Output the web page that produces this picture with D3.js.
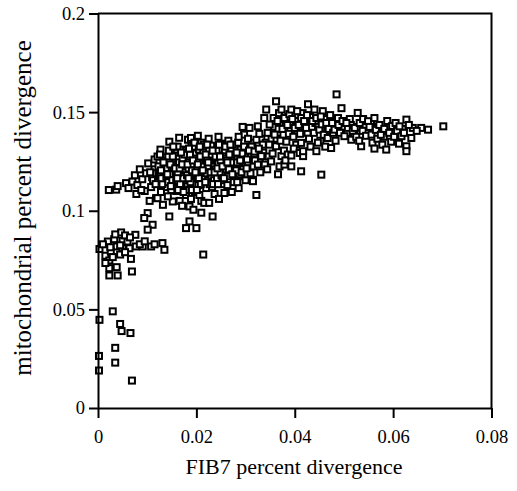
<!DOCTYPE html>
<html><head><meta charset="utf-8">
<script src="https://cdn.jsdelivr.net/npm/d3@7"></script>
<style>body{margin:0;background:#fff}svg{display:block}</style>
</head><body><svg id="c" width="517" height="491"></svg>
<script>
const xTicks=[0,0.02,0.04,0.06,0.08];
const xTickLabels=["0","0.02","0.04","0.06","0.08"];
const yTicks=[0,0.05,0.1,0.15,0.2];
const yTickLabels=["0","0.05","0.1","0.15","0.2"];
const xTitle="FIB7 percent divergence";
const yTitle="mitochondrial percent divergence";

// [FIB7 divergence, mitochondrial divergence]
const lowOutliers=[[0.0003,0.0447],[0.0030,0.0490],[0.0045,0.0426],[0.0048,0.0390],[0.0066,0.0380],[0.0035,0.0305],[0.0002,0.0264],[0.0035,0.0230],[0.0002,0.0190],[0.0069,0.0139]];
const lowCluster=[[0.0047,0.0890],[0.0076,0.0878],[0.0020,0.0844],[0.0033,0.0856],[0.0050,0.0848],[0.0060,0.0844],[0.0038,0.0819],[0.0050,0.0810],[0.0064,0.0810],[0.0077,0.0819],[0.0091,0.0819],[0.0108,0.0819],[0.0131,0.0836],[0.0135,0.0802],[0.0003,0.0806],[0.0015,0.0772],[0.0026,0.0793],[0.0067,0.0756],[0.0023,0.0748],[0.0038,0.0714],[0.0023,0.0709],[0.0023,0.0672],[0.0040,0.0672],[0.0069,0.0692],[0.0010,0.0830],[0.0035,0.0880],[0.0055,0.0875],[0.0065,0.0865],[0.0045,0.0825],[0.0025,0.0815],[0.0085,0.0830],[0.0095,0.0845],[0.0115,0.0830],[0.0045,0.0778],[0.0015,0.0735],[0.0055,0.0790],[0.0030,0.0765]];
const bridge=[[0.0022,0.1105],[0.0037,0.1107],[0.0040,0.1125],[0.0057,0.1140],[0.0062,0.1115],[0.0070,0.1148],[0.0101,0.0988],[0.0094,0.0963],[0.0111,0.0929],[0.0101,0.0904],[0.0145,0.0971],[0.0186,0.0946],[0.0179,0.0912],[0.0200,0.0912],[0.0233,0.0971],[0.0214,0.0778],[0.0186,0.1022],[0.0210,0.1050],[0.0132,0.1030],[0.0152,0.1047]];
const cloudLeft=[
[0.0075,0.118],[0.008,0.113],[0.0085,0.121],[0.009,0.116],[0.0095,0.110],[0.0098,0.119],[0.0078,0.1085],[0.0088,0.1105],
[0.0105,0.105],[0.0108,0.112],[0.011,0.117],[0.0115,0.121],[0.0102,0.124],[0.0118,0.1064],[0.0112,0.1155],[0.0119,0.119],[0.0106,0.1195],[0.0115,0.126],
[0.0121,0.1064],[0.0127,0.131],[0.0125,0.1245],[0.013,0.121],[0.0135,0.118],[0.0122,0.115],[0.0138,0.112],[0.0128,0.1095],[0.0133,0.127],[0.0139,0.123],[0.0124,0.119],[0.0136,0.1155],[0.0131,0.1135],[0.0126,0.1175],
[0.0123,0.1225],[0.0134,0.1195],[0.0129,0.1165],[0.0137,0.1255],[0.0121,0.1275],[0.0139,0.1175],
[0.0142,0.1073],[0.0145,0.135],[0.0148,0.13],[0.0155,0.1255],[0.0141,0.1215],[0.0158,0.119],[0.0147,0.1165],[0.0153,0.113],[0.0159,0.11],[0.0144,0.125],[0.015,0.122],[0.0156,0.1165],[0.0143,0.1145],[0.0157,0.128],[0.0149,0.1105],[0.0154,0.1205],
[0.0146,0.1185],[0.0151,0.1155],[0.0158,0.1235],[0.0143,0.1275],[0.0155,0.1125],[0.0147,0.1235],[0.0159,0.1145],
[0.0165,0.137],[0.0162,0.1325],[0.017,0.128],[0.0175,0.124],[0.0168,0.1205],[0.0178,0.1175],[0.0163,0.115],[0.0172,0.1115],[0.0179,0.108],[0.0166,0.105],[0.0174,0.131],[0.0161,0.1225],[0.0177,0.1205],[0.0169,0.1175],[0.0164,0.1265],[0.0176,0.1145],[0.0171,0.1025],[0.018,0.126],
[0.0167,0.1135],[0.0173,0.1165],[0.0162,0.119],[0.0178,0.1225],[0.0165,0.1245],[0.0172,0.1265],[0.0179,0.1305],
[0.0183,0.136],[0.019,0.133],[0.0195,0.129],[0.0185,0.1255],[0.0198,0.1225],[0.0188,0.119],[0.0193,0.116],[0.0182,0.1125],[0.0197,0.1095],[0.0189,0.106],[0.0194,0.1005],[0.0184,0.1215],[0.0199,0.1175],[0.0187,0.1155],[0.0192,0.1235],[0.0196,0.1135],
[0.0181,0.118],[0.0191,0.1205],[0.0186,0.1275],[0.0197,0.1265],[0.0183,0.1105],[0.0194,0.1325],[0.0188,0.1145],[0.0189,0.1369],
[0.0203,0.138],[0.021,0.1345],[0.0205,0.131],[0.0215,0.1275],[0.0208,0.124],[0.0218,0.1205],[0.0202,0.118],[0.0212,0.115],[0.022,0.1115],[0.0206,0.108],[0.0216,0.104],[0.021,0.099],[0.0201,0.1255],[0.0219,0.124],[0.0207,0.1205],[0.0213,0.1185],[0.0204,0.113],
[0.0202,0.1215],[0.0211,0.1225],[0.0217,0.1165],[0.0205,0.1165],[0.0214,0.1295],[0.0209,0.1135],[0.022,0.1255],
[0.0225,0.1365],[0.023,0.133],[0.0238,0.129],[0.0222,0.1265],[0.0235,0.1235],[0.0228,0.1205],[0.024,0.1175],[0.0224,0.1155],[0.0232,0.112],[0.0237,0.1085],[0.0226,0.104],[0.0234,0.1255],[0.0229,0.1285],[0.0239,0.121],[0.0221,0.119],
[0.0223,0.1225],[0.0231,0.1175],[0.0227,0.1135],[0.0236,0.1155],[0.024,0.1255],[0.0226,0.1305],
[0.0245,0.1375],[0.025,0.134],[0.0258,0.1305],[0.0243,0.128],[0.0255,0.125],[0.0248,0.122],[0.026,0.1195],[0.0242,0.1165],[0.0252,0.1135],[0.0257,0.109],[0.0246,0.106],[0.0254,0.1275],[0.0259,0.1235],[0.0244,0.124],[0.0251,0.118],
[0.0247,0.1195],[0.0253,0.1155],[0.0258,0.1265],[0.0241,0.1305],[0.0249,0.1255],
[0.0265,0.1355],[0.027,0.1315],[0.0278,0.128],[0.0262,0.1255],[0.0275,0.1225],[0.0268,0.1195],[0.028,0.1165],[0.0263,0.113],[0.0272,0.1095],[0.0277,0.1255],[0.0266,0.121],[0.0274,0.1335],
[0.0264,0.1175],[0.0271,0.1245],[0.0279,0.1205],[0.0284,0.1265],[0.0291,0.1235],[0.0296,0.1175],[0.0287,0.1295],
[0.0297,0.1386],[0.0294,0.1425],[0.0285,0.1345],[0.029,0.131],[0.0298,0.1275],[0.0283,0.1245],[0.0295,0.1215],[0.0288,0.1185],[0.03,0.1155],[0.0286,0.1115],[0.0293,0.129],[0.0281,0.1205],[0.0299,0.124]];
const cloudCore=[[0.0117,0.1135],[0.0128,0.1205],[0.0133,0.1245],[0.0126,0.1285],[0.0141,0.1185],[0.0148,0.1125],[0.0152,0.1275],[0.0157,0.1215],[0.0144,0.1305],[0.0153,0.1325],[0.0161,0.1165],[0.0166,0.1215],[0.0171,0.1235],[0.0176,0.1285],[0.0169,0.1295],[0.0163,0.1105],[0.0174,0.1095],[0.0182,0.1235],[0.0187,0.1285],[0.0193,0.1255],[0.0198,0.1195],[0.0184,0.1165],[0.0191,0.1105],[0.0196,0.1345],[0.0185,0.1315],[0.0203,0.1235],[0.0208,0.1275],[0.0213,0.1205],[0.0218,0.1145],[0.0201,0.1105],[0.0215,0.1335],[0.0207,0.1325],[0.0219,0.1285],[0.0224,0.1245],[0.0229,0.1195],[0.0234,0.1135],[0.0239,0.1275],[0.0222,0.1335],[0.0233,0.1305],[0.0237,0.1195],[0.0243,0.1215],[0.0248,0.1275],[0.0253,0.1225],[0.0256,0.1165],[0.0244,0.1135],[0.0259,0.1325],[0.0246,0.1335],[0.0263,0.1245],[0.0267,0.1285],[0.0273,0.1185],[0.0276,0.1145],[0.0269,0.1335],[0.0282,0.1295],[0.0289,0.1255],[0.0292,0.1195],[0.0283,0.1145],[0.0297,0.1325],[0.0286,0.1375],[0.0305,0.1245],[0.0311,0.1275],[0.0304,0.1185],[0.0314,0.1345],[0.0321,0.1255],[0.0329,0.1245],[0.0336,0.1295],[0.0332,0.1365],[0.0341,0.1345],[0.0347,0.1275],[0.0353,0.1365],[0.0358,0.1425],[0.0363,0.1365],[0.0367,0.1415],[0.0372,0.1465],[0.0377,0.1385],[0.0382,0.1445],[0.0387,0.1475],[0.0391,0.1415],[0.0396,0.1435],[0.0402,0.1455],[0.0406,0.1395],[0.0412,0.1425],[0.0416,0.1495],[0.0421,0.1445],[0.0426,0.1395],[0.0431,0.1475],[0.0435,0.1425],[0.0442,0.1445],[0.0448,0.1425],[0.0452,0.1355],[0.0461,0.1465],[0.0466,0.1405],[0.0473,0.1435],[0.0479,0.1465],[0.0486,0.1425],[0.0493,0.1435],[0.0499,0.1415],[0.0506,0.1395],[0.0514,0.1435],[0.0521,0.1385],[0.0529,0.1425],[0.0541,0.1425],[0.0547,0.1405],[0.0555,0.1445],[0.0569,0.1425],[0.0581,0.1375],[0.0594,0.1425],[0.0601,0.1405],[0.0609,0.1375],[0.0619,0.1415]];
const cloudMid=[
[0.0308,0.142],[0.0315,0.1157],[0.0305,0.1365],[0.0312,0.1325],[0.0318,0.129],[0.0303,0.126],[0.0316,0.1225],[0.031,0.119],[0.0302,0.1215],[0.0319,0.1255],[0.0307,0.1305],
[0.0322,0.108],[0.0325,0.1428],[0.0322,0.136],[0.0318,0.130],[0.0315,0.115],[0.0332,0.1277],[0.0339,0.1234],[0.0325,0.1234],[0.0335,0.1335],[0.0328,0.139],[0.0338,0.147],[0.033,0.1195],[0.0327,0.1315],
[0.0342,0.1513],[0.0349,0.1437],[0.0352,0.125],[0.0345,0.1395],[0.0348,0.1335],[0.0355,0.129],[0.0357,0.147],[0.0344,0.121],
[0.0362,0.1555],[0.0359,0.1386],[0.0362,0.1327],[0.0373,0.1277],[0.0369,0.1225],[0.0365,0.1455],[0.0368,0.1495],[0.0375,0.1415],[0.0371,0.1355],[0.0378,0.1305],[0.0379,0.1234],[0.0366,0.1185],
[0.0373,0.1513],[0.0379,0.147],[0.0385,0.1435],[0.0388,0.139],[0.0383,0.135],[0.0386,0.1285],[0.0381,0.1255],[0.0389,0.149],
[0.0393,0.1225],[0.0393,0.128],[0.0393,0.1513],[0.04,0.142],[0.0395,0.1465],[0.0397,0.1375],[0.0403,0.1335],[0.0398,0.1315],
[0.041,0.1293],[0.0413,0.12],[0.0413,0.1344],[0.0413,0.147],[0.0405,0.1505],[0.0408,0.1435],[0.0417,0.1277],[0.0417,0.1302],[0.0411,0.139],[0.0419,0.1455],
[0.0427,0.154],[0.0423,0.142],[0.0425,0.1485],[0.0429,0.1365],[0.0432,0.1325],[0.0436,0.1455],[0.0439,0.1395],[0.044,0.1513],[0.0444,0.1302],[0.0444,0.147],[0.0447,0.1345],[0.045,0.1411],[0.0454,0.1183],[0.0455,0.1438],[0.0457,0.1505],[0.0459,0.1385],[0.0453,0.1478]];
const cloudRight=[
[0.0464,0.1445],[0.0467,0.1369],[0.0462,0.1325],[0.0469,0.1415],[0.0474,0.1318],[0.0472,0.1485],[0.0478,0.1395],[0.0476,0.1445],[0.0481,0.1411],[0.0485,0.159],[0.0488,0.147],[0.0483,0.1355],[0.0489,0.1435],[0.0495,0.152],[0.0492,0.1395],[0.0497,0.1455],
[0.0501,0.1378],[0.0508,0.142],[0.0515,0.136],[0.0512,0.1465],[0.0505,0.1445],[0.0518,0.1405],[0.0522,0.142],[0.0528,0.1496],[0.0525,0.1375],[0.0532,0.1445],[0.0535,0.1327],[0.0538,0.1405],[0.0539,0.1465],[0.0531,0.1355],
[0.0549,0.1454],[0.0545,0.138],[0.0556,0.1386],[0.0552,0.1425],[0.0558,0.1345],[0.0562,0.147],[0.0565,0.141],[0.0568,0.1365],[0.0572,0.1435],[0.0575,0.1385],[0.0578,0.1335],[0.0562,0.1315],
[0.0586,0.131],[0.0596,0.135],[0.0582,0.1415],[0.0588,0.1455],[0.0592,0.1395],[0.0598,0.143],[0.0602,0.1375],[0.0605,0.1445],[0.0608,0.1405],[0.0613,0.1428],[0.0617,0.1378],[0.0612,0.134],
[0.0627,0.1462],[0.064,0.142],[0.0657,0.142],[0.0671,0.1411],[0.0702,0.1428],[0.0637,0.1369],[0.0627,0.1327],[0.0627,0.1302],[0.0622,0.1395],[0.0648,0.1405],[0.0632,0.1435]];

const points=[].concat(lowOutliers,lowCluster,bridge,cloudLeft,cloudCore,cloudMid,cloudRight);

const svg=d3.select("#c");
const font="'Liberation Serif','Times New Roman',serif";
const x=d3.scaleLinear().domain([0,0.08]).range([98,491.5]);
const y=d3.scaleLinear().domain([0,0.2]).range([408,13.5]);

const S=6;
svg.append("g").selectAll("rect").data(points).join("rect")
  .attr("x",d=>x(d[0])-S/2).attr("y",d=>y(d[1])-S/2)
  .attr("width",S).attr("height",S)
  .attr("fill","#fff").attr("stroke","#000").attr("stroke-width",2);

// frame top/right
svg.append("path")
  .attr("d",`M${x(0)},${y(0.2)}H${x(0.08)}V${y(0)}`)
  .attr("fill","none").attr("stroke","#000").attr("stroke-width",2);

const gx=svg.append("g").attr("transform",`translate(0,${y(0)})`)
  .call(d3.axisBottom(x).tickValues(xTicks).tickFormat((d,i)=>xTickLabels[i]).tickSize(10).tickSizeOuter(0).tickPadding(12));
const gy=svg.append("g").attr("transform",`translate(${x(0)},0)`)
  .call(d3.axisLeft(y).tickValues(yTicks).tickFormat((d,i)=>yTickLabels[i]).tickSize(9).tickSizeOuter(0).tickPadding(4));
[gx,gy].forEach(g=>{
  g.selectAll("path,line").attr("stroke","#000").attr("stroke-width",2);
  g.selectAll("text").attr("fill","#000").style("font-family",font).style("font-size","18.5px");
});

svg.append("text").attr("x",294).attr("y",474).attr("text-anchor","middle")
  .style("font-family",font).style("font-size","22px").text(xTitle);
svg.append("text").attr("transform","translate(31,208) rotate(-90)").attr("text-anchor","middle")
  .style("font-family",font).style("font-size","25px").text(yTitle);
</script></body></html>
